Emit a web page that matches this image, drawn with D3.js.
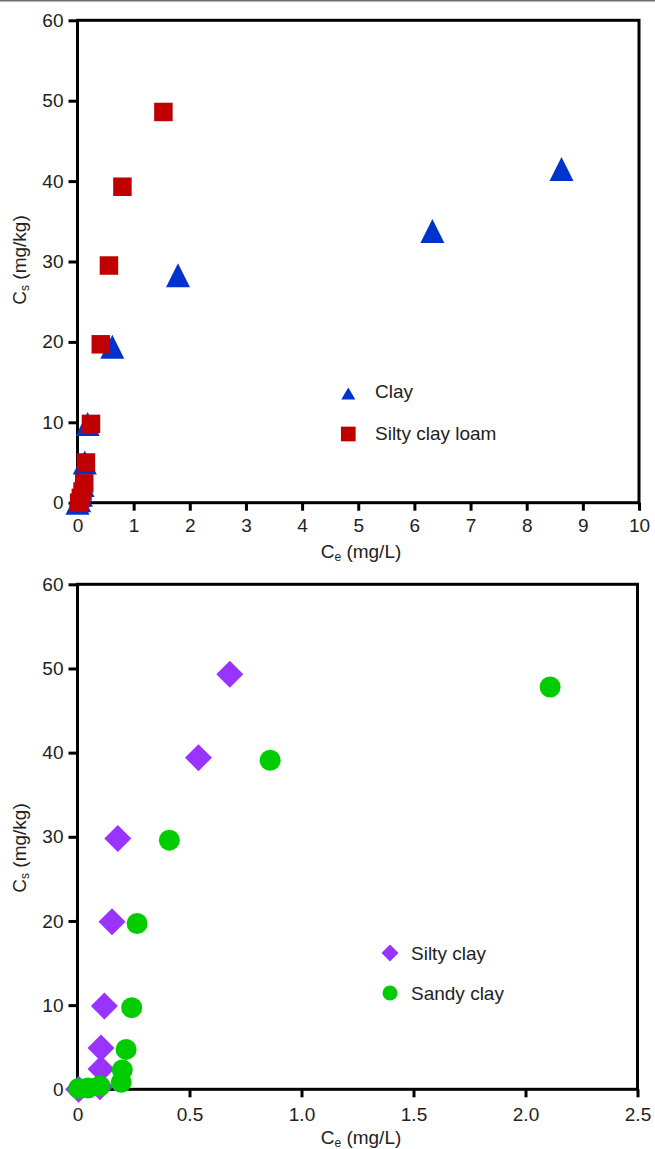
<!DOCTYPE html>
<html><head><meta charset="utf-8">
<script src="https://cdn.jsdelivr.net/npm/d3@7"></script>
<style>body{margin:0;background:#fff}svg{display:block}text{font-family:"Liberation Sans",Arial,Helvetica,sans-serif;fill:#222}</style>
</head><body>
<script>
// ---- Data ----
const clayCe = [0.0, 0.03, 0.06, 0.09, 0.13, 0.18, 0.62, 1.79, 6.32, 8.62];
const clayCs = [0.0, 0.3, 1.0, 2.2, 5.0, 9.8, 19.4, 28.3, 33.8, 41.5];
const siltyLoamCe = [0.03, 0.06, 0.09, 0.12, 0.15, 0.24, 0.415, 0.56, 0.80, 1.53];
const siltyLoamCs = [0.0, 0.6, 1.4, 2.4, 5.0, 9.8, 19.7, 29.5, 39.3, 48.6];
const siltyClayCe = [0.005, 0.10, 0.105, 0.105, 0.12, 0.154, 0.18, 0.54, 0.68];
const siltyClayCs = [0.0, 0.3, 2.4, 4.9, 9.9, 19.9, 29.8, 39.4, 49.3];
const sandyClayCe = [0.005, 0.047, 0.10, 0.195, 0.20, 0.217, 0.242, 0.266, 0.41, 0.86, 2.11];
const sandyClayCs = [0.1, 0.15, 0.4, 0.83, 2.3, 4.74, 9.7, 19.7, 29.6, 39.1, 47.8];
const yTicks = [0, 10, 20, 30, 40, 50, 60];
const xTicksTop = [0, 1, 2, 3, 4, 5, 6, 7, 8, 9, 10];
const xTicksBottom = [0, 0.5, 1.0, 1.5, 2.0, 2.5];
const xTickLabelsBottom = ["0", "0.5", "1.0", "1.5", "2.0", "2.5"];
const legendTop = ["Clay", "Silty clay loam"];
const legendBottom = ["Silty clay", "Sandy clay"];

const W = 655, H = 1149;
const svg = d3.select("body").append("svg").attr("width", W).attr("height", H);
svg.append("rect").attr("x",0).attr("y",0).attr("width",W).attr("height",1.5).attr("fill","#6e6e6e");

const FS = 19;

function panel(o) {
  const x = d3.scaleLinear().domain(o.xDomain).range([o.x0, o.x1]);
  const y = d3.scaleLinear().domain([0, 60]).range([o.y0, o.y1]);
  const g = svg.append("g");
  g.append("rect").attr("x", o.x0).attr("y", o.y1).attr("width", o.x1 - o.x0).attr("height", o.y0 - o.y1)
    .attr("fill", "none").attr("stroke", "#000").attr("stroke-width", 3);
  const xa = g.append("g").attr("transform", `translate(0,${o.y0})`)
    .call(d3.axisBottom(x).tickValues(o.xTicks).tickSize(8).tickSizeOuter(0)
      .tickFormat((d, i) => o.xLabels ? o.xLabels[i] : d3.format("d")(d)));
  const ya = g.append("g").attr("transform", `translate(${o.x0},0)`)
    .call(d3.axisLeft(y).tickValues(yTicks).tickSize(9).tickSizeOuter(0).tickPadding(5));
  [xa, ya].forEach(a => {
    a.select(".domain").remove();
    a.selectAll(".tick line").attr("stroke", "#000").attr("stroke-width", 3);
    a.selectAll(".tick text").attr("font-size", FS).attr("fill", "#222")
      .style("font-family", '"Liberation Sans",Arial,sans-serif');
  });
  xa.selectAll(".tick text").attr("y", o.xLabelOff).attr("dy", 0);
  const xt = g.append("text").attr("x", o.xTitleX).attr("y", o.y0 + o.xTitleOff).attr("text-anchor", "middle").attr("font-size", FS);
  xt.append("tspan").text("C");
  xt.append("tspan").attr("font-size", 12).attr("dy", 3).text("e");
  xt.append("tspan").attr("dy", -3).text(" (mg/L)");
  const yt = g.append("text").attr("transform", `translate(${o.yTitleX},${o.yTitleY}) rotate(-90)`)
    .attr("text-anchor", "middle").attr("font-size", FS);
  yt.append("tspan").text("C");
  yt.append("tspan").attr("font-size", 12).attr("dy", 3).text("s");
  yt.append("tspan").attr("dy", -3).text(" (mg/kg)");
  return {x, y, g};
}

function tri(w, h) { return `M0,${-h/2}L${w/2},${h/2}L${-w/2},${h/2}Z`; }
function sq(s) { return `M${-s/2},${-s/2}h${s}v${s}h${-s}Z`; }
function dia(w, h) { return `M0,${-h/2}L${w/2},0L0,${h/2}L${-w/2},0Z`; }

// ---- Top panel ----
const p1 = panel({xDomain: [0, 10], x0: 77.5, x1: 639, y0: 502.7, y1: 20.3,
  xTicks: xTicksTop, xLabelOff: 29, xTitleOff: 55.5, xTitleX: 361, yTitleX: 25.5, yTitleY: 260});
p1.g.selectAll("path.clay").data(d3.range(clayCe.length)).join("path")
  .attr("d", tri(24, 24)).attr("fill", "#0033cc")
  .attr("transform", i => `translate(${p1.x(clayCe[i])},${p1.y(clayCs[i])})`);
p1.g.selectAll("path.sl").data(d3.range(siltyLoamCe.length)).join("path")
  .attr("d", sq(18.5)).attr("fill", "#c00000")
  .attr("transform", i => `translate(${p1.x(siltyLoamCe[i])},${p1.y(siltyLoamCs[i])})`);
p1.g.append("path").attr("d", tri(14, 12)).attr("fill", "#0033cc").attr("transform", "translate(348.3,393.5)");
p1.g.append("text").attr("x", 375).attr("y", 397.7).attr("font-size", FS).text(legendTop[0]);
p1.g.append("path").attr("d", sq(14.7)).attr("fill", "#c00000").attr("transform", "translate(348.3,434)");
p1.g.append("text").attr("x", 375).attr("y", 440).attr("font-size", FS).text(legendTop[1]);

// ---- Bottom panel ----
const p2 = panel({xDomain: [0, 2.5], x0: 77.5, x1: 637.5, y0: 1089.3, y1: 584.3,
  xTicks: xTicksBottom, xLabels: xTickLabelsBottom, xLabelOff: 31.5, xTitleOff: 54.5, xTitleX: 361, yTitleX: 25.5, yTitleY: 848});
p2.g.selectAll("path.sc").data(d3.range(siltyClayCe.length)).join("path")
  .attr("d", dia(27, 27)).attr("fill", "#9933ff")
  .attr("transform", i => `translate(${p2.x(siltyClayCe[i])},${p2.y(siltyClayCs[i])})`);
p2.g.selectAll("circle.sd").data(d3.range(sandyClayCe.length)).join("circle")
  .attr("r", 10.5).attr("fill", "#00cc00")
  .attr("cx", i => p2.x(sandyClayCe[i])).attr("cy", i => p2.y(sandyClayCs[i]));
p2.g.append("path").attr("d", dia(17, 17)).attr("fill", "#9933ff").attr("transform", "translate(390,953)");
p2.g.append("text").attr("x", 411).attr("y", 960).attr("font-size", FS).text(legendBottom[0]);
p2.g.append("circle").attr("r", 7.5).attr("fill", "#00cc00").attr("cx", 390).attr("cy", 993);
p2.g.append("text").attr("x", 411).attr("y", 1000).attr("font-size", FS).text(legendBottom[1]);
</script>
</body></html>
